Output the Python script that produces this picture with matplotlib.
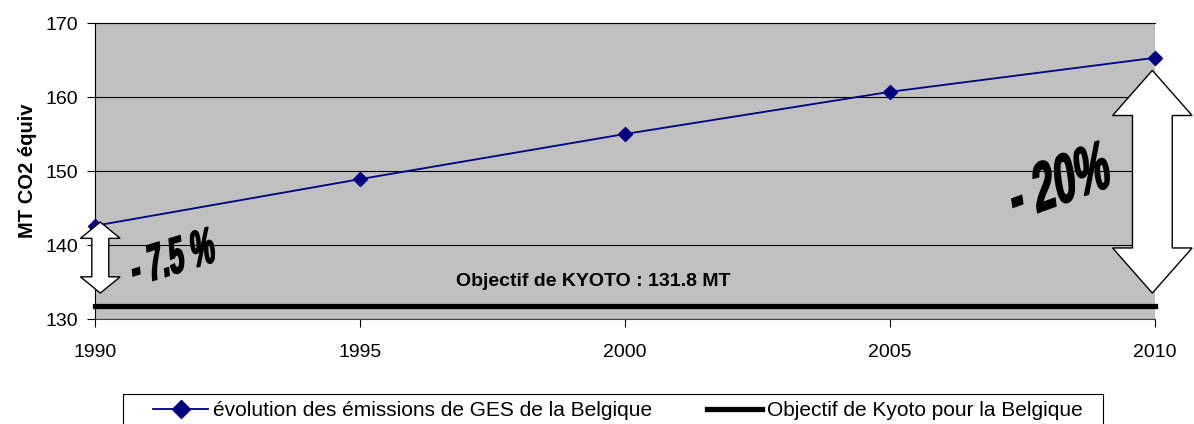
import matplotlib
matplotlib.use("Agg")
import matplotlib.pyplot as plt
from matplotlib.font_manager import FontProperties
from matplotlib.patches import PathPatch, Polygon, Rectangle
from matplotlib.textpath import TextPath
from matplotlib.transforms import Affine2D, ScaledTranslation

plt.rcParams["font.family"] = ["Liberation Sans", "DejaVu Sans"]

years = [1990, 1995, 2000, 2005, 2010]
emissions = [142.6, 148.9, 155.0, 160.7, 165.3]
kyoto = 131.8
yticks = [130, 140, 150, 160, 170]

GREY = "#C0C0C0"
NAVY = "#000080"


def double_arrow(ax, x, y_top, y_bot, head_w, shaft_w, head_len):
    """Hollow double-headed arrow, widths in x data units, lengths in y data units."""
    hw, sw = head_w / 2, shaft_w / 2
    pts = [(x, y_top), (x + hw, y_top - head_len), (x + sw, y_top - head_len),
           (x + sw, y_bot + head_len), (x + hw, y_bot + head_len), (x, y_bot),
           (x - hw, y_bot + head_len), (x - sw, y_bot + head_len),
           (x - sw, y_top - head_len), (x - hw, y_top - head_len)]
    ax.add_patch(Polygon(pts, closed=True, fc="white", ec="black", lw=1.0,
                         clip_on=False, zorder=5))


def word_art(ax, s, x, y, size, sx, sy, angle, skew):
    """Tall, slanted, rotated bold text drawn as a path centred on (x, y)."""
    fp = FontProperties(family="Liberation Sans", weight="bold")
    tp = TextPath((0, 0), s, size=size, prop=fp)
    ext = tp.get_extents()
    cx, cy = (ext.x0 + ext.x1) / 2, (ext.y0 + ext.y1) / 2
    tr = (Affine2D().translate(-cx, -cy).skew_deg(skew, 0).scale(sx, sy)
          .rotate_deg(angle) + ScaledTranslation(x, y, ax.transData))
    patch = PathPatch(tr.transform_path(tp), fc="black", ec="black", lw=1.2,
                      zorder=6, clip_on=False)
    ax.add_patch(patch)
    patch.set_transform(Affine2D())  # path is already in display pixels


fig = plt.figure(figsize=(11.94, 4.24), dpi=100)
ax = fig.add_axes([95 / 1194, 1 - 319 / 424, 1060 / 1194, 296 / 424])
ax.set_facecolor(GREY)

ax.set_xlim(1990, 2010)
ax.set_ylim(130, 170)
ax.set_xticks(years)
ax.set_yticks(yticks)
ax.yaxis.grid(True, color="black", lw=0.8)
ax.set_axisbelow(True)
ax.spines["right"].set_visible(False)
for side in ("top", "left", "bottom"):
    ax.spines[side].set_linewidth(0.8)
ax.spines["bottom"].set_color("#404040")
ax.tick_params(axis="x", length=6, width=0.8, pad=12, labelsize=14)
ax.tick_params(axis="y", length=6, width=0.8, pad=6, labelsize=14)
ax.set_ylabel("MT CO2 équiv", fontsize=14.5, fontweight="bold", labelpad=6)

ax.plot(years, emissions, color=NAVY, lw=1.3, marker="D", ms=7,
        label="évolution des émissions de GES de la Belgique", zorder=4,
        clip_on=False)
ax.plot([years[0], years[-1]], [kyoto, kyoto], color="black", lw=3.8,
        solid_capstyle="projecting", label="Objectif de Kyoto pour la Belgique",
        zorder=4, clip_on=False)

ax.text(1999.4, 135.0, "Objectif de KYOTO : 131.8 MT", ha="center", va="center",
        fontsize=14, fontweight="bold", zorder=6)

double_arrow(ax, 1990.1, 143.1, 133.5, 0.75, 0.32, 2.2)
double_arrow(ax, 2009.95, 163.6, 133.5, 1.5, 0.75, 6.1)

word_art(ax, "- 7.5 %", 1991.47, 138.5, 44, 0.62, 1.15, 17, 20)
word_art(ax, "- 20%", 2008.2, 148.8, 50, 0.8, 1.35, 20, 20)

# legend frame drawn separately (Excel-style wide box, cut by the figure edge)
fig.add_artist(Rectangle((123 / 1194, -0.05), (1103 - 123) / 1194,
                         1 - 394 / 424 + 0.05, transform=fig.transFigure,
                         fc="white", ec="black", lw=0.8))
fig.legend(loc="center left", bbox_to_anchor=(153 / 1194, 1 - 411 / 424),
           ncol=2, frameon=False, fontsize=15, handlelength=2.65,
           handletextpad=0.25, columnspacing=2.6, borderpad=0, borderaxespad=0,
           markerscale=1.3)

fig.savefig("out.png", dpi=100)
